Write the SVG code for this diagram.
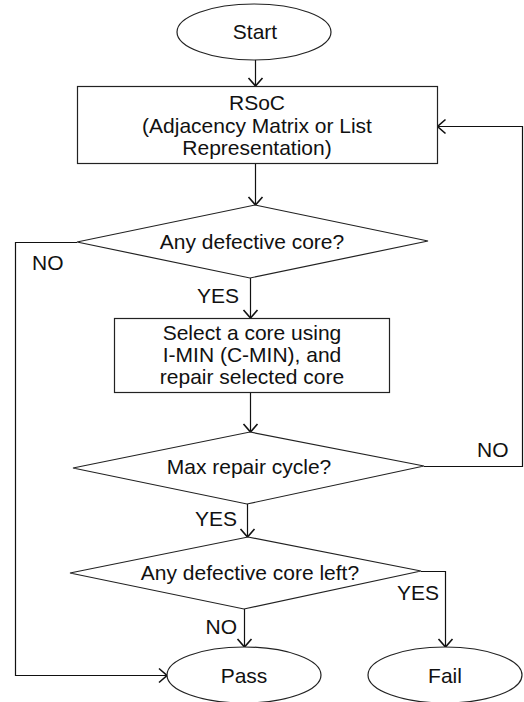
<svg xmlns="http://www.w3.org/2000/svg" width="524" height="702" viewBox="0 0 524 702">
<style>
.shape{fill:#fff;stroke:#222;stroke-width:1.2}
.conn{fill:none;stroke:#111;stroke-width:1.2}
text{font-family:"Liberation Sans",Arial,sans-serif;font-size:21px;fill:#111}
.c{text-anchor:middle}
.e{text-anchor:end}
</style>
<defs>
<marker id="arr" viewBox="-10 -10 20 20" refX="0" refY="0" markerWidth="20" markerHeight="20" markerUnits="userSpaceOnUse" orient="auto">
<path d="M-8,-7 L0,0 L-8,7" fill="none" stroke="#111" stroke-width="1.6"/>
</marker>
</defs>
<g id="connectors">
<path class="conn" d="M255.5,60 V86" marker-end="url(#arr)"/>
<path class="conn" d="M255.5,163 V205" marker-end="url(#arr)"/>
<path class="conn" d="M77,242.5 H15.5 V675.5 H167" marker-end="url(#arr)"/>
<path class="conn" d="M250.5,278 V318" marker-end="url(#arr)"/>
<path class="conn" d="M250.5,392 V432" marker-end="url(#arr)"/>
<path class="conn" d="M424,466.5 H522.5 V126.5 H437.5" marker-end="url(#arr)"/>
<path class="conn" d="M247.5,504 V537" marker-end="url(#arr)"/>
<path class="conn" d="M421,571.5 H445.5 V647" marker-end="url(#arr)"/>
<path class="conn" d="M244.5,609 V647" marker-end="url(#arr)"/>
<text x="32" y="270">NO</text>
<text class="e" x="239" y="303">YES</text>
<text x="477" y="457">NO</text>
<text class="e" x="237" y="526">YES</text>
<text x="397" y="600">YES</text>
<text class="e" x="237" y="634">NO</text>
</g>
<g id="start">
<ellipse class="shape" cx="254" cy="32" rx="77" ry="28"/>
<text class="c" x="255" y="39">Start</text>
</g>
<g id="rsoc">
<rect class="shape" x="77.5" y="86.5" width="360" height="77"/>
<text class="c" x="257" y="110">RSoC</text>
<text class="c" x="257" y="133">(Adjacency Matrix or List</text>
<text class="c" x="257" y="155">Representation)</text>
</g>
<g id="anyDefective">
<polygon class="shape" points="255,205 428,241 250,278 77,242"/>
<text class="c" x="252" y="249">Any defective core?</text>
</g>
<g id="selectCore">
<rect class="shape" x="114.5" y="318.5" width="275" height="74"/>
<text class="c" x="252" y="340">Select a core using</text>
<text class="c" x="252" y="362">I-MIN (C-MIN), and</text>
<text class="c" x="252" y="384">repair selected core</text>
</g>
<g id="maxRepair">
<polygon class="shape" points="250,432 424,466 247,504 73,468"/>
<text class="c" x="249" y="474">Max repair cycle?</text>
</g>
<g id="defectiveLeft">
<polygon class="shape" points="248,537 421,571 244,609 70,573"/>
<text class="c" x="250" y="580">Any defective core left?</text>
</g>
<g id="pass">
<ellipse class="shape" cx="244" cy="675" rx="77" ry="28"/>
<text class="c" x="244" y="683">Pass</text>
</g>
<g id="fail">
<ellipse class="shape" cx="445" cy="675" rx="77" ry="28"/>
<text class="c" x="445" y="683">Fail</text>
</g>
</svg>
